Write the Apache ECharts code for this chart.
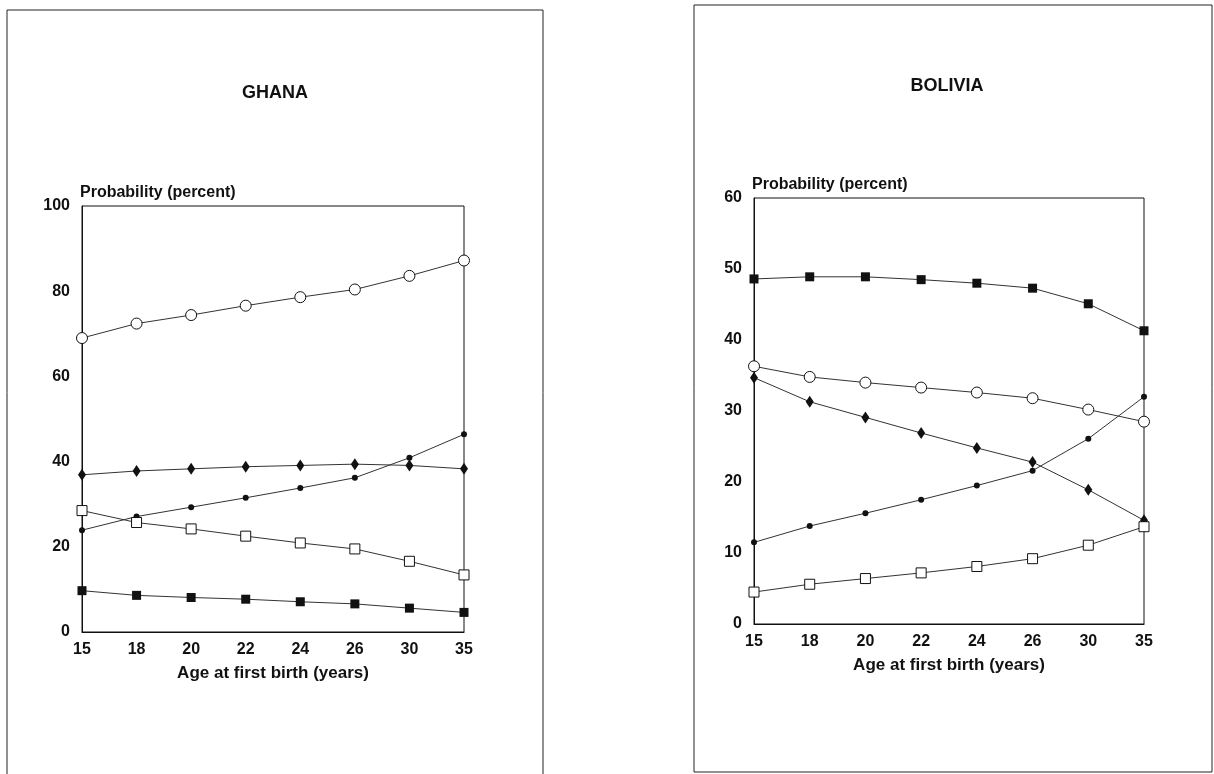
<!DOCTYPE html>
<html>
<head>
<meta charset="utf-8">
<title>Probability by age at first birth</title>
<script src="https://cdn.jsdelivr.net/npm/echarts@6/dist/echarts.min.js"></script>
<style>
  html, body { margin: 0; padding: 0; background: #fff; }
  #chart { width: 1214px; height: 774px; }
</style>
</head>
<body>
<div id="chart"></div>
<script>
// Age at first birth (years), shared by both panels
const ages = ['15', '18', '20', '22', '24', '26', '30', '35'];

// GHANA — probability (percent)
const ghanaOpenCircle  = [69.0, 72.4, 74.4, 76.6, 78.6, 80.4, 83.6, 87.2];
const ghanaDiamond     = [36.9, 37.8, 38.3, 38.8, 39.1, 39.4, 39.1, 38.3];
const ghanaDot         = [23.9, 27.1, 29.3, 31.5, 33.8, 36.2, 40.9, 46.4];
const ghanaOpenSquare  = [28.5, 25.7, 24.2, 22.5, 20.9, 19.5, 16.6, 13.4];
const ghanaFilledSq    = [9.7, 8.6, 8.1, 7.7, 7.1, 6.6, 5.6, 4.6];
const ghanaTicks = { min: 0, max: 100, interval: 20 };

// BOLIVIA — probability (percent)
const boliviaFilledSq   = [48.6, 48.9, 48.9, 48.5, 48.0, 47.3, 45.1, 41.3];
const boliviaOpenCircle = [36.3, 34.8, 34.0, 33.3, 32.6, 31.8, 30.2, 28.5];
const boliviaDiamond    = [34.7, 31.3, 29.1, 26.9, 24.8, 22.8, 18.9, 14.6];
const boliviaDot        = [11.5, 13.8, 15.6, 17.5, 19.5, 21.6, 26.1, 32.0];
const boliviaOpenSquare = [4.5, 5.6, 6.4, 7.2, 8.1, 9.2, 11.1, 13.7];
const boliviaTicks = { min: 0, max: 60, interval: 10 };

const FONT = '"Liberation Sans", Arial, sans-serif';
const INK = '#111';

const markerStyles = {
  openCircle:  { symbol: 'circle',  symbolSize: 11, itemStyle: { color: '#fff', borderColor: INK, borderWidth: 1 } },
  diamond:     { symbol: 'diamond', symbolSize: [8, 12], itemStyle: { color: INK, borderColor: INK, borderWidth: 0 } },
  dot:         { symbol: 'circle',  symbolSize: 6, itemStyle: { color: INK, borderWidth: 0 } },
  openSquare:  { symbol: 'rect',    symbolSize: 10, itemStyle: { color: '#fff', borderColor: INK, borderWidth: 1 } },
  filledSq:    { symbol: 'rect',    symbolSize: 9, itemStyle: { color: INK, borderWidth: 0 } }
};

function lineSeries(name, data, style, idx) {
  const m = markerStyles[style];
  return {
    name: name,
    type: 'line',
    xAxisIndex: idx,
    yAxisIndex: idx,
    data: data,
    symbol: m.symbol,
    symbolSize: m.symbolSize,
    showSymbol: true,
    itemStyle: m.itemStyle,
    lineStyle: { color: '#333', width: 1 },
    emphasis: { disabled: true },
    animation: false,
    z: 3
  };
}

function xAxisFor(idx) {
  return {
    type: 'category',
    gridIndex: idx,
    data: ages,
    boundaryGap: false,
    axisTick: { show: false },
    axisLine: { lineStyle: { color: INK, width: 1 } },
    axisLabel: { color: INK, fontFamily: FONT, fontWeight: 'bold', fontSize: 16, margin: 10 },
    splitLine: { show: false },
    name: 'Age at first birth (years)',
    nameLocation: 'middle',
    nameGap: 33,
    nameTextStyle: { color: INK, fontFamily: FONT, fontWeight: 'bold', fontSize: 17 }
  };
}

function yAxisFor(idx, ticks, gap) {
  return {
    type: 'value',
    gridIndex: idx,
    min: ticks.min,
    max: ticks.max,
    interval: ticks.interval,
    axisTick: { show: false },
    axisLine: { show: true, lineStyle: { color: INK, width: 1 } },
    axisLabel: { color: INK, fontFamily: FONT, fontWeight: 'bold', fontSize: 16, margin: 12 },
    splitLine: { show: false },
    name: 'Probability (percent)',
    nameLocation: 'end',
    nameGap: gap,
    nameTextStyle: { color: INK, fontFamily: FONT, fontWeight: 'bold', fontSize: 16, align: 'left', verticalAlign: 'bottom', padding: [0, 0, 0, -2] }
  };
}

const chart = echarts.init(document.getElementById('chart'), null, { renderer: 'canvas' });

chart.setOption({
  backgroundColor: '#fff',
  animation: false,
  title: [
    { text: 'GHANA', left: 270, top: 79, textAlign: 'center',
      textStyle: { color: INK, fontFamily: FONT, fontWeight: 'bold', fontSize: 18 } },
    { text: 'BOLIVIA', left: 942, top: 72, textAlign: 'center',
      textStyle: { color: INK, fontFamily: FONT, fontWeight: 'bold', fontSize: 18 } }
  ],
  graphic: [
    // panel frames
    { type: 'polyline', silent: true, z: 0,
      shape: { points: [[7, 780], [7, 10], [543, 10], [543, 780]] },
      style: { stroke: '#222', lineWidth: 1, fill: null } },
    { type: 'rect', silent: true, z: 0,
      shape: { x: 694, y: 5, width: 518, height: 767 },
      style: { stroke: '#222', lineWidth: 1, fill: null } }
  ],
  grid: [
    { left: 82, top: 206, width: 382, height: 426, show: true, borderColor: INK, borderWidth: 1, backgroundColor: 'transparent' },
    { left: 754, top: 198, width: 390, height: 426, show: true, borderColor: INK, borderWidth: 1, backgroundColor: 'transparent' }
  ],
  xAxis: [xAxisFor(0), xAxisFor(1)],
  yAxis: [yAxisFor(0, ghanaTicks, 5), yAxisFor(1, boliviaTicks, 5)],
  series: [
    lineSeries('Ghana open circle', ghanaOpenCircle, 'openCircle', 0),
    lineSeries('Ghana diamond', ghanaDiamond, 'diamond', 0),
    lineSeries('Ghana dot', ghanaDot, 'dot', 0),
    lineSeries('Ghana open square', ghanaOpenSquare, 'openSquare', 0),
    lineSeries('Ghana filled square', ghanaFilledSq, 'filledSq', 0),
    lineSeries('Bolivia filled square', boliviaFilledSq, 'filledSq', 1),
    lineSeries('Bolivia open circle', boliviaOpenCircle, 'openCircle', 1),
    lineSeries('Bolivia diamond', boliviaDiamond, 'diamond', 1),
    lineSeries('Bolivia dot', boliviaDot, 'dot', 1),
    lineSeries('Bolivia open square', boliviaOpenSquare, 'openSquare', 1)
  ]
});
</script>
</body>
</html>
